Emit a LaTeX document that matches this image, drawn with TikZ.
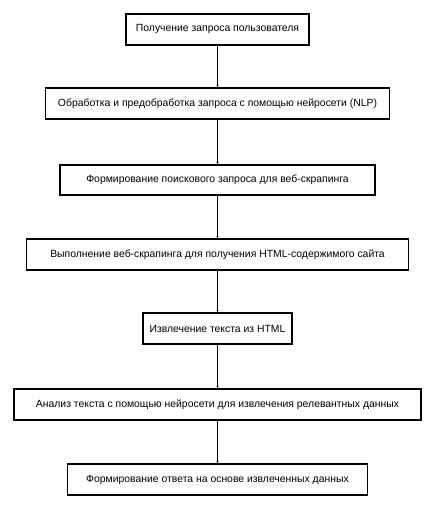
\documentclass[tikz,border=0pt]{standalone}
\usepackage{fontspec}
\setmainfont{Liberation Sans}
\usetikzlibrary{arrows.meta}
\begin{document}
\begin{tikzpicture}[x=1pt,y=-1pt,
  stepbox/.style={draw=black,line width=1.6pt,minimum height=31pt,inner sep=0pt,
    font=\fontsize{10.4}{12}\selectfont,text=black},
  flow/.style={draw=black,line width=0.8pt,-{Latex[length=2.2pt,width=2.2pt]}}]
\useasboundingbox (0,0) rectangle (435,510);
\node[stepbox,minimum width=183pt] (n1) at (217.5,29.5) {Получение запроса пользователя};
\node[stepbox,minimum width=344pt] (n2) at (217.5,103.5) {Обработка и предобработка запроса с помощью нейросети (NLP)};
\node[stepbox,minimum width=315pt,minimum height=30pt] (n3) at (217.5,180) {Формирование поискового запроса для веб-скрапинга};
\node[stepbox,minimum width=382pt] (n4) at (217.5,254.5) {Выполнение веб-скрапинга для получения HTML-содержимого сайта};
\node[stepbox,minimum width=149pt] (n5) at (217.5,328.5) {Извлечение текста из HTML};
\node[stepbox,minimum width=407pt] (n6) at (217.5,404.5) {Анализ текста с помощью нейросети для извлечения релевантных данных};
\node[stepbox,minimum width=300pt] (n7) at (217.5,479.5) {Формирование ответа на основе извлеченных данных};
\draw[flow] (n1) -- (n2);
\draw[flow] (n2) -- (n3);
\draw[flow] (n3) -- (n4);
\draw[flow] (n4) -- (n5);
\draw[flow] (n5) -- (n6);
\draw[flow] (n6) -- (n7);
\end{tikzpicture}
\end{document}
